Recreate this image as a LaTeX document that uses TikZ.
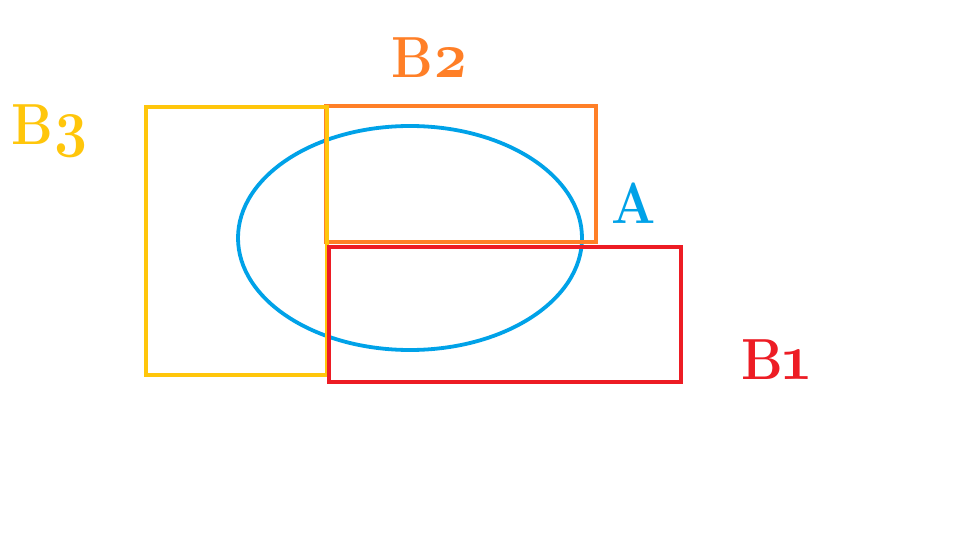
\documentclass[tikz,border=0pt]{standalone}
\usepackage{fontspec}
\setmainfont{Latin Modern Roman}[Numbers=OldStyle]
\usetikzlibrary{shapes.geometric}
\definecolor{pgold}{HTML}{FFC60B}
\definecolor{porange}{HTML}{FF7F27}
\definecolor{pred}{HTML}{ED1C24}
\definecolor{pblue}{HTML}{00A2E8}
\newcommand{\lbltext}[1]{\scalebox{0.9}[1]{#1}}
\newcommand{\bigdig}[1]{\scalebox{1.12}{#1}}
\tikzset{
  lbl/.style={font=\fontsize{58}{66}\selectfont\bfseries, inner sep=0pt, anchor=base west},
}
\begin{document}
\begin{tikzpicture}[x=1pt,y=-1pt]
\useasboundingbox (0,0) rectangle (960,540);
\fill[white] (0,0) rectangle (960,540);
% A
\node[draw=pblue, line width=3.8pt, ellipse, inner sep=0pt, minimum width=344pt, minimum height=224pt] (A) at (410,238) {};
% B2
\node[draw=porange, line width=4pt, inner sep=0pt, minimum width=270pt, minimum height=136pt] (B2) at (461,174) {};
% B3
\node[draw=pgold, line width=4pt, inner sep=0pt, minimum width=181pt, minimum height=268pt] (B3) at (236.5,241) {};
% B1
\node[draw=pred, line width=4pt, inner sep=0pt, minimum width=352.5pt, minimum height=135pt] (B1) at (504.75,314.5) {};
% labels
\node[lbl, text=pgold] (lB3) at (11,145) {\lbltext{B\bigdig{3}}};
\node[lbl, text=porange] (lB2) at (391,78) {\lbltext{B\bigdig{2}}};
\node[lbl, text=pblue] (lA) at (611,223) {\lbltext{A}};
\node[lbl, text=pred] (lB1) at (741,379) {\lbltext{B\bigdig{1}}};
\end{tikzpicture}
\end{document}
